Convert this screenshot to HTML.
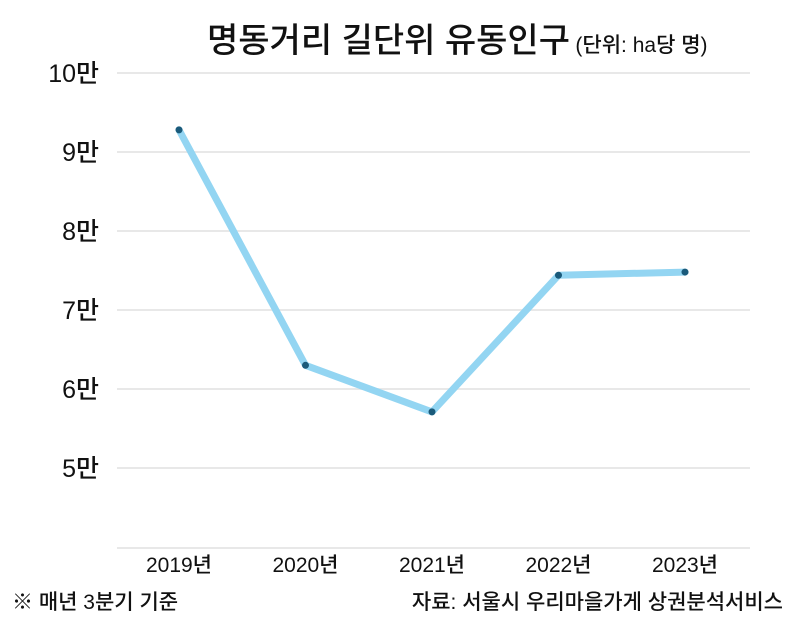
<!DOCTYPE html>
<html><head><meta charset="utf-8"><style>
body{margin:0;background:#fff;font-family:"Liberation Sans","Noto Sans CJK KR",sans-serif;}
svg text{font-family:"Liberation Sans","Noto Sans CJK KR",sans-serif;fill:#111;}
</style></head><body>
<svg width="800" height="622" viewBox="0 0 800 622">
<text x="207" y="52" font-size="34" font-weight="500">명동거리 길단위 유동인구 <tspan font-size="21" dx="-4">(단위: ha당 명)</tspan></text>
<g id="grid"></g>
<g id="yl"></g>
<g id="xl"></g>
<g id="series"></g>
<text x="12" y="609" font-size="21" font-weight="500">※ 매년 3분기 기준</text>
<text x="783" y="609" font-size="21" font-weight="500" text-anchor="end">자료: 서울시 우리마을가게 상권분석서비스</text>
</svg>
<script>
const years=["2019년","2020년","2021년","2022년","2023년"];
const values=[92800,63000,57100,74400,74800];
const yTicks=[50000,60000,70000,80000,90000,100000];
const yTickLabels=["5만","6만","7만","8만","9만","10만"];
const NS="http://www.w3.org/2000/svg";
function y(v){return 547-(v-40000)/10000*79;}
function x(i){return 179+i*126.5;}
function mk(t,a,p){const e=document.createElementNS(NS,t);for(const k in a)e.setAttribute(k,a[k]);p.appendChild(e);return e;}
const g=document.getElementById('grid'),yl=document.getElementById('yl'),xl=document.getElementById('xl'),s=document.getElementById('series');
yTicks.forEach((v,i)=>{
 const l=mk('line',{x1:117,x2:750,y1:y(v),y2:y(v),stroke:'#e8e8e8','stroke-width':2},g);
 
 
 const t=mk('text',{x:99,y:y(v)+9,'font-size':25,'font-weight':500,'text-anchor':'end'},yl);t.textContent=yTickLabels[i];
 
 
});
const base=mk('line',{x1:117,x2:750,y1:548,y2:548,stroke:'#e8e8e8','stroke-width':2},g);


years.forEach((yr,i)=>{
 const t=mk('text',{x:x(i),y:572,'font-size':21,'font-weight':500,'text-anchor':'middle'},xl);t.textContent=yr;
 
 
});
const pts=values.map((v,i)=>x(i)+','+y(v)).join(' ');
const pl=mk('polyline',{points:pts,fill:'none',stroke:'#93d5f2','stroke-width':7,'stroke-linejoin':'round','stroke-linecap':'round'},s);


values.forEach((v,i)=>{
 const c=mk('circle',{cx:x(i),cy:y(v),r:3.5,fill:'#1a5a7a'},s);
 
 
});
</script>
</body></html>
